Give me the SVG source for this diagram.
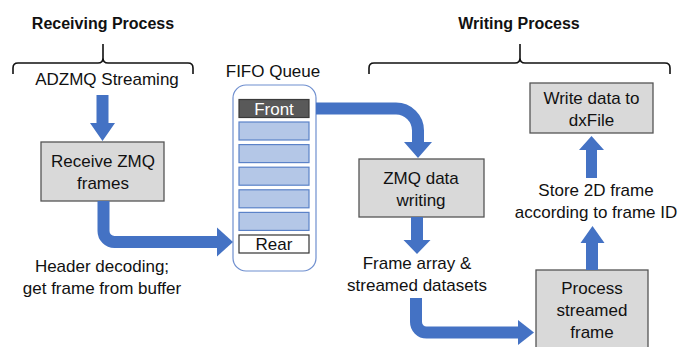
<svg xmlns="http://www.w3.org/2000/svg" width="680" height="347" viewBox="0 0 680 347">
<style>
text{font-family:"Liberation Sans",Arial,sans-serif;font-size:17px;fill:#111;text-anchor:middle}
.title{font-weight:bold;font-size:16px}
.box{fill:#d9d9d9;stroke:#555;stroke-width:1.3}
.slot{fill:#b4c7e7;stroke:#5b82c8;stroke-width:1.2}
.brace{fill:none;stroke:#111;stroke-width:1.6}
.shaft{fill:none;stroke:#4472c4;stroke-width:12}
.arr{fill:#4472c4}
</style>
<rect width="680" height="347" fill="#fff"/>

<g id="receiving-title">
<text class="title" x="103" y="29">Receiving Process</text>
<path class="brace" d="M13,74 V68 Q13,63 18,63 H98 Q103,63 103,58 V44 M103,58 Q103,63 108,63 H188 Q193,63 193,68 V74"/>
</g>
<g id="writing-title">
<text class="title" x="519" y="29">Writing Process</text>
<path class="brace" d="M369,74 V68 Q369,63 374,63 H515 Q520,63 520,58 V44 M520,58 Q520,63 525,63 H665 Q670,63 670,68 V74"/>
</g>

<g id="adzmq">
<text x="107" y="85">ADZMQ Streaming</text>
</g>

<g id="receive">
<rect class="box" x="41" y="142" width="123" height="59"/>
<text x="103" y="167">Receive ZMQ</text>
<text x="103" y="189">frames</text>
</g>

<g id="header-label">
<text x="102" y="272">Header decoding;</text>
<text x="102" y="294">get frame from buffer</text>
</g>

<g id="fifo">
<text x="273" y="77">FIFO Queue</text>
<rect x="233" y="85" width="83" height="186" rx="13" fill="#fff" stroke="#6f8fcf" stroke-width="1.2"/>
<rect x="239" y="99.5" width="70" height="18" fill="#595959" stroke="#3a3a3a" stroke-width="1.2"/>
<text x="274" y="114.5" style="fill:#fff">Front</text>
<rect class="slot" x="239" y="122" width="70" height="18"/>
<rect class="slot" x="239" y="144.6" width="70" height="18"/>
<rect class="slot" x="239" y="167.2" width="70" height="18"/>
<rect class="slot" x="239" y="189.8" width="70" height="18"/>
<rect class="slot" x="239" y="212.4" width="70" height="18"/>
<rect x="239" y="235" width="70" height="18" fill="#fff" stroke="#333" stroke-width="1.2"/>
<text x="274" y="250">Rear</text>
</g>

<g id="zmq-writing">
<rect class="box" x="359" y="159" width="125" height="58"/>
<text x="421" y="184">ZMQ data</text>
<text x="421" y="206">writing</text>
</g>

<g id="frame-array-label">
<text x="417" y="269">Frame array &amp;</text>
<text x="417" y="291">streamed datasets</text>
</g>

<g id="process">
<rect class="box" x="536" y="270" width="112" height="90"/>
<text x="592" y="294">Process</text>
<text x="592" y="316">streamed</text>
<text x="592" y="338">frame</text>
</g>

<g id="store-label">
<text x="596" y="196">Store 2D frame</text>
<text x="596" y="218">according to frame ID</text>
</g>

<g id="write-dxfile">
<rect class="box" x="530" y="83" width="123" height="50"/>
<text x="591.5" y="104">Write data to</text>
<text x="591.5" y="126">dxFile</text>
</g>

<g id="connectors">
<path class="arr" d="M96.5,95 H108.5 V123 H115 L102.5,141 L90,123 H96.5 Z"/>
<path class="shaft" d="M103.5,201 V231 A11,11 0 0 0 114.5,242 H219"/>
<path class="arr" d="M217,227.5 L233,242 L217,256.5 Z"/>
<path class="shaft" d="M316,108.5 H396 A22,22 0 0 1 418,130.5 V143"/>
<path class="arr" d="M404,142 H432 L418,158 Z"/>
<path class="arr" d="M411,217 H423 V240 H430.5 L417,254 L403.5,240 H411 Z"/>
<path class="shaft" d="M416,298 V322 A10.5,10.5 0 0 0 426.5,332.5 H519"/>
<path class="arr" d="M518,320 L534,332.5 L518,345 Z"/>
<path class="arr" d="M586,270 V243 H580.5 L592.5,226 L604.5,243 H598 V270 Z"/>
<path class="arr" d="M586,178 V150 H579 L591.5,136 L604,150 H597 V178 Z"/>
</g>
</svg>
